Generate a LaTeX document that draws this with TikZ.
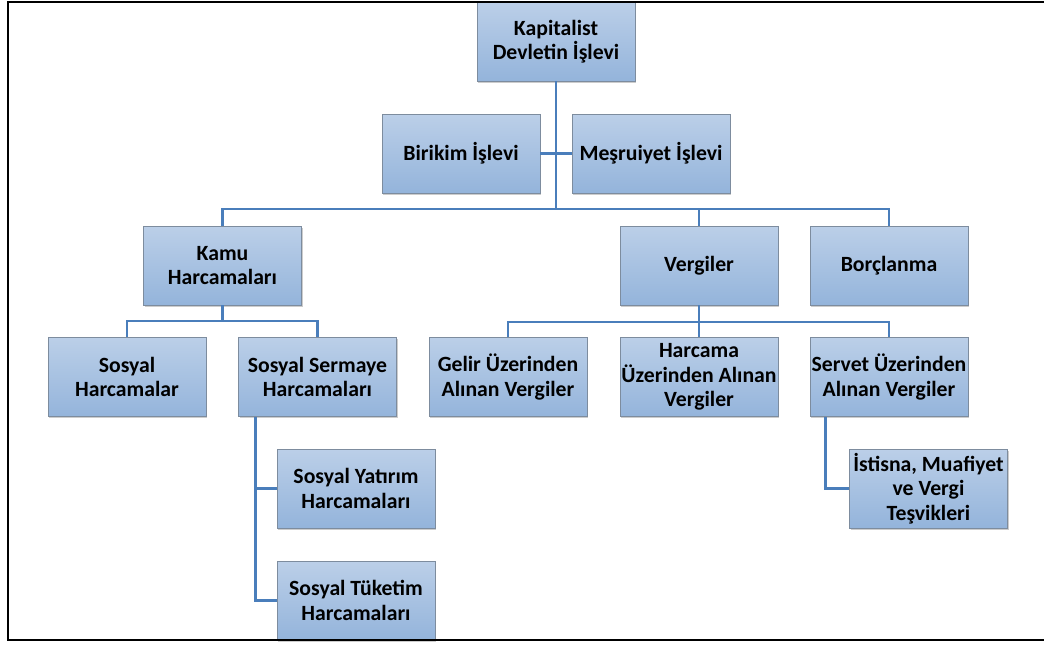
\documentclass[tikz,border=0pt]{standalone}
\usepackage{fontspec}
\setmainfont{Carlito}
\usepackage{tikz}
\usetikzlibrary{shadows}
\usetikzlibrary{calc}
\usepackage{xcolor}

\definecolor{boxtop}{RGB}{187,207,232}
\definecolor{boxbot}{RGB}{148,180,219}
\definecolor{boxline}{RGB}{125,140,158}
\definecolor{linkblue}{RGB}{74,126,187}

\tikzset{
  orgbox/.style={rectangle, draw=boxline, line width=0.6pt, top color=boxtop, bottom color=boxbot,
    minimum width=118.5pt, minimum height=59.25pt, align=center, inner sep=1pt,
    font=\fontsize{16.3}{18.3}\selectfont\bfseries,
    drop shadow={opacity=0.4, shadow xshift=0.9pt, shadow yshift=-1.3pt}},
  link/.style={draw=linkblue, line width=2.1pt}
}

\begin{document}
\begin{tikzpicture}[x=0.75pt,y=0.75pt,yscale=-1,xscale=1]
\useasboundingbox (0,0) rectangle (1044,644);

%Bus levels
\coordinate (busA) at (0,209);
\coordinate (busB) at (0,321);
\coordinate (busC) at (0,322);

% Level 0 and 1
\node [orgbox] (kap) at (556,41.5) {Kapitalist\\Devletin İşlevi};
\node [orgbox] (bir) at (461,153.5) {Birikim İşlevi};
\node [orgbox] (mes) at (651,153.5) {Meşruiyet İşlevi};

% Level 2
\node [orgbox] (kamu) at (222.5,265.5) {Kamu\\Harcamaları};
\node [orgbox] (verg) at (699,265.5) {Vergiler};
\node [orgbox] (borc) at (889,265.5) {Borçlanma};

% Level 3
\node [orgbox] (sosh) at (127,377) {Sosyal\\Harcamalar};
\node [orgbox] (sses) at (317.5,377) {Sosyal Sermaye\\Harcamaları};
\node [orgbox] (gelir) at (508,377) {Gelir Üzerinden\\Alınan Vergiler};
\node [orgbox] (harc) at (699,377) {Harcama\\Üzerinden Alınan\\Vergiler};
\node [orgbox] (servet) at (889,377) {Servet Üzerinden\\Alınan Vergiler};

% Level 4
\node [orgbox] (yat) at (356,488.5) {Sosyal Yatırım\\Harcamaları};
\node [orgbox] (tuk) at (356,600.5) {Sosyal Tüketim\\Harcamaları};
\node [orgbox] (ist) at (928.5,488.5) {İstisna, Muafiyet\\ve Vergi\\Teşvikleri};

%Side branches
\coordinate (ssesdrop) at ($(sses.south west)+(17,0)$);
\coordinate (servdrop) at ($(servet.south west)+(16,0)$);

% Connectors
\draw [link] (kap.south) -- (kap.south |- busA);
\draw [link] (bir.east) -- (mes.west);
\draw [link] (kamu.north) -- (kamu.north |- busA) -- (borc.north |- busA) -- (borc.north);
\draw [link] (verg.north |- busA) -- (verg.north);

\draw [link] (kamu.south) -- (kamu.south |- busB);
\draw [link] (sosh.north) -- (sosh.north |- busB) -- (sses.north |- busB) -- (sses.north);

\draw [link] (verg.south) -- (verg.south |- busC);
\draw [link] (gelir.north) -- (gelir.north |- busC) -- (servet.north |- busC) -- (servet.north);
\draw [link] (harc.north |- busC) -- (harc.north);

\draw [link] (ssesdrop) -- (ssesdrop |- tuk.west) -- (tuk.west);
\draw [link] (ssesdrop |- yat.west) -- (yat.west);
\draw [link] (servdrop) -- (servdrop |- ist.west) -- (ist.west);

%Frame
\draw [line width=1.5pt] (1044,2) -- (8,2) -- (8,640) -- (1044,640);

\end{tikzpicture}
\end{document}
